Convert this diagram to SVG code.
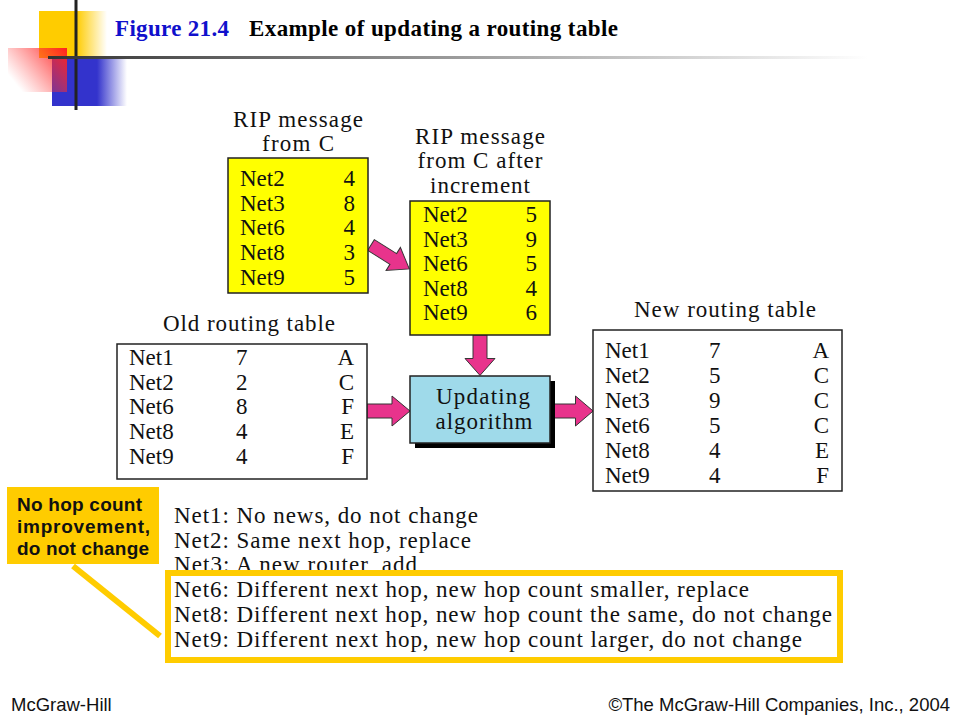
<svg xmlns="http://www.w3.org/2000/svg" width="960" height="720" viewBox="0 0 960 720">
<defs>
<linearGradient id="gY" x1="0" y1="0" x2="1" y2="0"><stop offset="0.55" stop-color="#FFCC00"/><stop offset="1" stop-color="#FFCC00" stop-opacity="0"/></linearGradient>
<linearGradient id="gB" x1="0" y1="0" x2="1" y2="0"><stop offset="0.6" stop-color="#3333CC"/><stop offset="1" stop-color="#3333CC" stop-opacity="0"/></linearGradient>
<linearGradient id="gR" x1="1" y1="0" x2="0" y2="0.6"><stop offset="0" stop-color="#FF2020"/><stop offset="1" stop-color="#FF4040" stop-opacity="0"/></linearGradient>
<linearGradient id="gL" x1="0" y1="0" x2="1" y2="0"><stop offset="0" stop-color="#333333"/><stop offset="0.4" stop-color="#888888"/><stop offset="1" stop-color="#FFFFFF"/></linearGradient>
<path id="barrow" d="M0,-7 H25 V-15 L43,0 L25,15 V7 H0 Z"/>
</defs>
<style>
.t{font-family:"Liberation Serif","Times New Roman",serif;font-size:23px;fill:#111}
.r{text-anchor:end}
.m{text-anchor:middle}
.box{stroke:#222;stroke-width:1.5}
.arr{fill:#E8338C;stroke:#333;stroke-width:1}
.ttl{font-family:"Liberation Sans",serif;font-weight:bold;font-size:23px}
.ttl{font-family:"Liberation Serif",serif}
.ft{font-family:"Liberation Sans",Arial,sans-serif;font-size:18.5px;fill:#111}
.call{font-family:"Liberation Sans",Arial,sans-serif;font-weight:bold;font-size:19px;fill:#111}
</style>
<rect width="960" height="720" fill="#fff"/>
<g id="logo">
<rect x="39" y="11" width="68" height="47" fill="url(#gY)"/>
<rect x="52" y="58" width="75" height="48" fill="url(#gB)"/>
<rect x="8" y="48" width="59" height="44" fill="url(#gR)"/>
<rect x="74.5" y="0" width="3" height="110" fill="#222"/>
<rect x="48" y="56" width="820" height="3" fill="url(#gL)"/>
</g>
<g id="title">
<text x="115" y="36" class="ttl" fill="#1010CC" textLength="114">Figure 21.4</text>
<text x="249" y="36" class="ttl" fill="#000" textLength="369">Example of updating a routing table</text>
</g>
<g id="connectors">
<use href="#barrow" class="arr" transform="translate(371,245) rotate(32) scale(1.05,0.9)"/>
<use href="#barrow" class="arr" transform="translate(480,335) rotate(90) scale(0.94,1)"/>
<use href="#barrow" class="arr" transform="translate(367,411)"/>
<use href="#barrow" class="arr" transform="translate(551,411) scale(0.98,1)"/>
</g>
<g id="rip">
<text x="298" y="127" class="t m" textLength="130">RIP message</text>
<text x="298" y="151" class="t m" textLength="72">from C</text>
<rect x="228" y="158" width="140" height="135" fill="#FFFF00" class="box"/>
<text x="240" y="186" class="t">Net2</text><text x="355" y="186" class="t r">4</text>
<text x="240" y="211" class="t">Net3</text><text x="355" y="211" class="t r">8</text>
<text x="240" y="235" class="t">Net6</text><text x="355" y="235" class="t r">4</text>
<text x="240" y="260" class="t">Net8</text><text x="355" y="260" class="t r">3</text>
<text x="240" y="285" class="t">Net9</text><text x="355" y="285" class="t r">5</text>
</g>
<g id="rip2">
<text x="480" y="144" class="t m" textLength="130">RIP message</text>
<text x="480" y="168" class="t m" textLength="125">from C after</text>
<text x="480" y="193" class="t m" textLength="100">increment</text>
<rect x="410" y="201" width="140" height="134" fill="#FFFF00" class="box"/>
<text x="423" y="222" class="t">Net2</text><text x="537" y="222" class="t r">5</text>
<text x="423" y="247" class="t">Net3</text><text x="537" y="247" class="t r">9</text>
<text x="423" y="271" class="t">Net6</text><text x="537" y="271" class="t r">5</text>
<text x="423" y="296" class="t">Net8</text><text x="537" y="296" class="t r">4</text>
<text x="423" y="320" class="t">Net9</text><text x="537" y="320" class="t r">6</text>
</g>
<g id="old">
<text x="249" y="331" class="t m" textLength="172">Old routing table</text>
<rect x="117" y="344" width="250" height="135" fill="#fff" class="box"/>
<text x="129" y="365" class="t">Net1</text><text x="236" y="365" class="t">7</text><text x="354" y="365" class="t r">A</text>
<text x="129" y="390" class="t">Net2</text><text x="236" y="390" class="t">2</text><text x="354" y="390" class="t r">C</text>
<text x="129" y="414" class="t">Net6</text><text x="236" y="414" class="t">8</text><text x="354" y="414" class="t r">F</text>
<text x="129" y="439" class="t">Net8</text><text x="236" y="439" class="t">4</text><text x="354" y="439" class="t r">E</text>
<text x="129" y="464" class="t">Net9</text><text x="236" y="464" class="t">4</text><text x="354" y="464" class="t r">F</text>
</g>
<g id="algo">
<rect x="415" y="381" width="140" height="67" fill="#000"/>
<rect x="410" y="376" width="140" height="67" fill="#9FDAEA" class="box"/>
<text x="483" y="404" class="t m" textLength="94">Updating</text>
<text x="484" y="429" class="t m" textLength="97">algorithm</text>
</g>
<g id="new">
<text x="725" y="317" class="t m" textLength="182">New routing table</text>
<rect x="593" y="330" width="249" height="161" fill="#fff" class="box"/>
<text x="605" y="358" class="t">Net1</text><text x="709" y="358" class="t">7</text><text x="829" y="358" class="t r">A</text>
<text x="605" y="383" class="t">Net2</text><text x="709" y="383" class="t">5</text><text x="829" y="383" class="t r">C</text>
<text x="605" y="408" class="t">Net3</text><text x="709" y="408" class="t">9</text><text x="829" y="408" class="t r">C</text>
<text x="605" y="433" class="t">Net6</text><text x="709" y="433" class="t">5</text><text x="829" y="433" class="t r">C</text>
<text x="605" y="458" class="t">Net8</text><text x="709" y="458" class="t">4</text><text x="829" y="458" class="t r">E</text>
<text x="605" y="483" class="t">Net9</text><text x="709" y="483" class="t">4</text><text x="829" y="483" class="t r">F</text>
</g>
<g id="notes">
<text x="174" y="523" class="t" textLength="304">Net1: No news, do not change</text>
<text x="174" y="548" class="t" textLength="297">Net2: Same next hop, replace</text>
<text x="174" y="572" class="t" textLength="243">Net3: A new router, add</text>
<rect x="168" y="573" width="672" height="87" fill="#fff" stroke="#FFCC00" stroke-width="6"/>
<text x="174" y="597" class="t" textLength="575">Net6: Different next hop, new hop count smaller, replace</text>
<text x="174" y="622" class="t" textLength="658">Net8: Different next hop, new hop count the same, do not change</text>
<text x="174" y="647" class="t" textLength="628">Net9: Different next hop, new hop count larger, do not change</text>
</g>
<g id="callout">
<line x1="73" y1="566" x2="160" y2="636" stroke="#FFCC00" stroke-width="6"/>
<rect x="7" y="487" width="152" height="77" fill="#FFCC00"/>
<text x="17" y="511" class="call" textLength="125">No hop count</text>
<text x="17" y="533" class="call" textLength="133">improvement,</text>
<text x="17" y="555" class="call" textLength="132">do not change</text>
</g>
<g id="footer">
<text x="11" y="711" class="ft">McGraw-Hill</text>
<text x="950" y="711" class="ft r">©The McGraw-Hill Companies, Inc., 2004</text>
</g>
</svg>
